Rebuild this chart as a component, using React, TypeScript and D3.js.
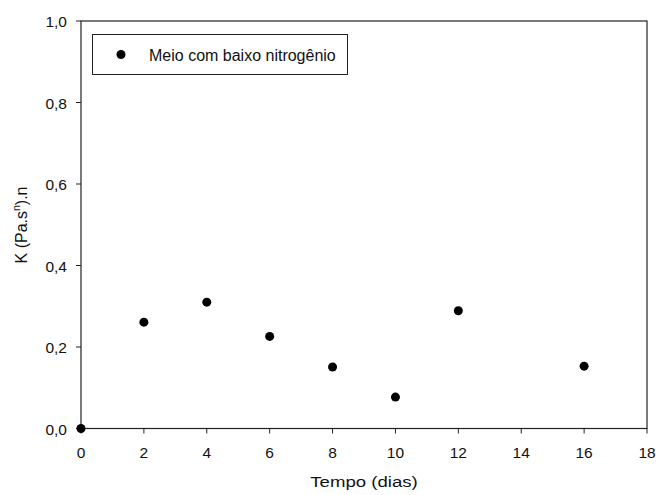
import React from "react";
import * as d3 from "d3";

const days = [0, 2, 4, 6, 8, 10, 12, 16];
const kValues = [0.0, 0.261, 0.31, 0.226, 0.151, 0.077, 0.289, 0.153];
const xTicks = [0, 2, 4, 6, 8, 10, 12, 14, 16, 18];
const yTicks = [0, 0.2, 0.4, 0.6, 0.8, 1.0];
const seriesName = "Meio com baixo nitrogênio";

const W = 658, H = 495;
const L = 81, R = 647, T = 21, B = 428.5;

export default function App() {
  const x = d3.scaleLinear().domain([0, 18]).range([L, R]);
  const y = d3.scaleLinear().domain([0, 1]).range([B, T]);
  const font = "'Liberation Sans', Arial, sans-serif";
  const fmt = (v: number) => v.toFixed(1).replace(".", ",");
  return (
    <svg width={W} height={H} style={{ position: "absolute", left: 0, top: 0 }} fontFamily={font}>
      <rect x={0} y={0} width={W} height={H} fill="#fff" />
      <rect x={L} y={T} width={R - L} height={B - T} fill="none" stroke="#222" strokeWidth={1.2} />
      {xTicks.map((t) => (
        <g key={"x" + t}>
          <line x1={x(t)} x2={x(t)} y1={B} y2={B + 5} stroke="#222" />
          <text x={x(t)} y={457.5} textAnchor="middle" fontSize={15.5} fill="#111">{t}</text>
        </g>
      ))}
      {yTicks.map((t) => (
        <g key={"y" + t}>
          <line x1={L - 5} x2={L} y1={y(t)} y2={y(t)} stroke="#222" />
          <text x={67} y={y(t) + 6} textAnchor="end" fontSize={15.5} fill="#111">{fmt(t)}</text>
        </g>
      ))}
      <text transform={`translate(364,487) scale(1.2,1)`} textAnchor="middle" fontSize={15.5} fill="#111">Tempo (dias)</text>
      <text transform={`translate(27,225) rotate(-90)`} textAnchor="middle" fontSize={16} fill="#111">
        K (Pa.s<tspan dy={-7} fontSize={10.5}>n</tspan><tspan dy={7}>).n</tspan>
      </text>
      <rect x={92.5} y={34.5} width={255} height={40} fill="#fff" stroke="#222" strokeWidth={1} />
      <circle cx={121} cy={54.5} r={4.5} fill="#000" />
      <text x={149} y={60.5} fontSize={16} fill="#111">{seriesName}</text>
      {days.map((d, i) => (
        <circle key={"p" + i} cx={x(d)} cy={y(kValues[i])} r={4.5} fill="#000" />
      ))}
    </svg>
  );
}
